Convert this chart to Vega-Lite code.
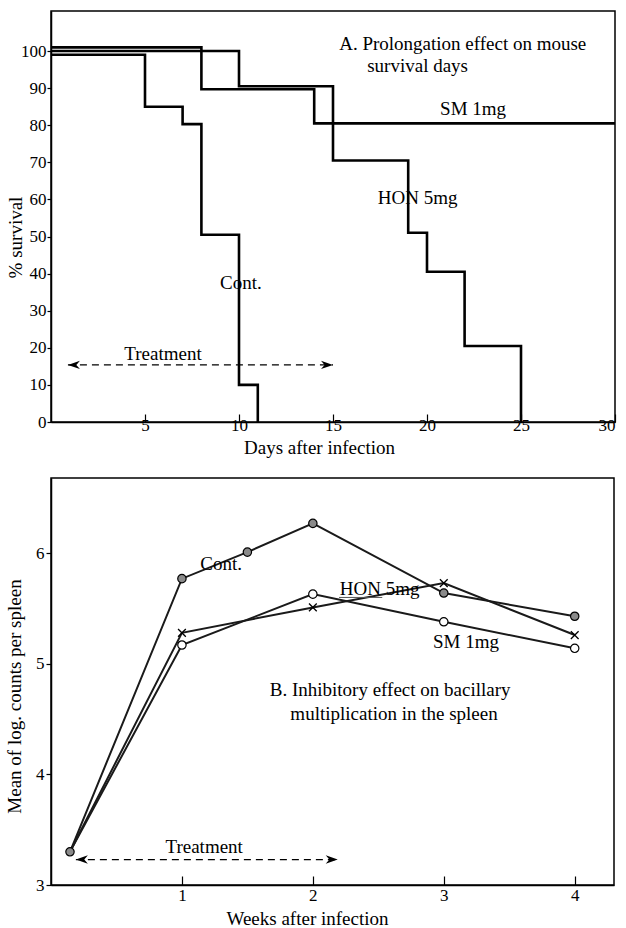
{
  "$schema": "https://vega.github.io/schema/vega-lite/v6.json",
  "background": "white",
  "padding": {"left": 4, "top": 10, "right": 5, "bottom": 5},
  "config": {
    "font": "Liberation Serif",
    "view": {"stroke": "black", "strokeWidth": 1.5},
    "axis": {
      "grid": false,
      "domainColor": "black",
      "domainWidth": 1.5,
      "tickColor": "black",
      "tickWidth": 1.2,
      "labelColor": "black",
      "titleColor": "black",
      "labelFont": "Liberation Serif",
      "titleFont": "Liberation Serif",
      "labelFontSize": 17,
      "titleFontSize": 19,
      "titleFontWeight": "normal",
      "format": "d"
    },
    "text": {"font": "Liberation Serif", "fontSize": 19, "fill": "black"}
  },
  "datasets": {
    "surv": [
      {"series": "Cont.", "day": 0, "pct": 99},
      {"series": "Cont.", "day": 5, "pct": 85},
      {"series": "Cont.", "day": 7, "pct": 80.3},
      {"series": "Cont.", "day": 8, "pct": 50.5},
      {"series": "Cont.", "day": 10, "pct": 10},
      {"series": "Cont.", "day": 11, "pct": 0},
      {"series": "SM 1mg", "day": 0, "pct": 101},
      {"series": "SM 1mg", "day": 8, "pct": 89.7},
      {"series": "SM 1mg", "day": 14, "pct": 80.5},
      {"series": "SM 1mg", "day": 30, "pct": 80.5},
      {"series": "HON 5mg", "day": 0, "pct": 100},
      {"series": "HON 5mg", "day": 10, "pct": 90.5},
      {"series": "HON 5mg", "day": 15, "pct": 70.5},
      {"series": "HON 5mg", "day": 19, "pct": 51},
      {"series": "HON 5mg", "day": 20, "pct": 40.5},
      {"series": "HON 5mg", "day": 22, "pct": 20.5},
      {"series": "HON 5mg", "day": 25, "pct": 0}
    ],
    "survLabels": [
      {"text": "A. Prolongation effect on mouse", "day": 21.9, "pct": 101.9},
      {"text": "survival days", "day": 19.5, "pct": 96.0},
      {"text": "SM 1mg", "day": 22.45, "pct": 84.4},
      {"text": "HON 5mg", "day": 19.5, "pct": 60.4},
      {"text": "Cont.", "day": 10.1, "pct": 37.5},
      {"text": "Treatment", "day": 5.96, "pct": 18.3}
    ],
    "survArrow": [{"from": 0.9, "to": 15.0, "pct": 15.4}],
    "spleen": [
      {"series": "Cont.", "week": 0.145, "log": 3.3},
      {"series": "Cont.", "week": 1, "log": 5.77},
      {"series": "Cont.", "week": 1.5, "log": 6.01},
      {"series": "Cont.", "week": 2, "log": 6.27},
      {"series": "Cont.", "week": 3, "log": 5.64},
      {"series": "Cont.", "week": 4, "log": 5.43},
      {"series": "HON 5mg", "week": 0.145, "log": 3.3},
      {"series": "HON 5mg", "week": 1, "log": 5.28},
      {"series": "HON 5mg", "week": 2, "log": 5.51},
      {"series": "HON 5mg", "week": 3, "log": 5.73},
      {"series": "HON 5mg", "week": 4, "log": 5.26},
      {"series": "SM 1mg", "week": 0.145, "log": 3.3},
      {"series": "SM 1mg", "week": 1, "log": 5.17},
      {"series": "SM 1mg", "week": 2, "log": 5.63},
      {"series": "SM 1mg", "week": 3, "log": 5.38},
      {"series": "SM 1mg", "week": 4, "log": 5.14}
    ],
    "spleenLabels": [
      {"text": "Cont.", "week": 1.30, "log": 5.90},
      {"text": "HON 5mg", "week": 2.51, "log": 5.68},
      {"text": "SM 1mg", "week": 3.17, "log": 5.20},
      {"text": "B. Inhibitory effect on bacillary", "week": 2.59, "log": 4.76},
      {"text": "multiplication in the spleen", "week": 2.62, "log": 4.55},
      {"text": "Treatment", "week": 1.17, "log": 3.34}
    ],
    "spleenArrow": [{"from": 0.19, "to": 2.19, "log": 3.23}],
    "underline": [{"from": 2.2, "to": 2.53, "log": 5.6}]
  },
  "bounds": "flush",
  "spacing": 56,
  "vconcat": [
    {
      "width": 564,
      "height": 411,
      "layer": [
        {
          "data": {"name": "surv"},
          "mark": {"type": "line", "interpolate": "step-after", "stroke": "black", "strokeWidth": 2.6},
          "encoding": {
            "x": {
              "field": "day", "type": "quantitative",
              "scale": {"domain": [0, 30], "nice": false, "zero": false},
              "axis": {"values": [5, 10, 15, 20, 25, 30], "title": "Days after infection", "tickSize": -8, "labelPadding": 3, "titleX": 268, "titleY": 25, "titleBaseline": "middle", "titleAlign": "center"}
            },
            "y": {
              "field": "pct", "type": "quantitative",
              "scale": {"domain": [0, 110.8], "nice": false},
              "axis": {"values": [0, 10, 20, 30, 40, 50, 60, 70, 80, 90, 100], "title": "% survival", "tickSize": 4, "labelPadding": 1, "titleX": -36, "titleY": 226, "titleBaseline": "middle", "titleAngle": -90, "titleAlign": "center"}
            },
            "detail": {"field": "series"}
          }
        },
        {
          "data": {"name": "survLabels"},
          "mark": {"type": "text", "align": "center", "baseline": "middle"},
          "encoding": {
            "x": {"field": "day", "type": "quantitative"},
            "y": {"field": "pct", "type": "quantitative"},
            "text": {"field": "text"}
          }
        },
        {
          "data": {"name": "survArrow"},
          "mark": {"type": "rule", "stroke": "black", "strokeWidth": 1.3, "strokeDash": [7, 5]},
          "encoding": {
            "x": {"field": "from", "type": "quantitative"},
            "x2": {"field": "to"},
            "y": {"field": "pct", "type": "quantitative"}
          }
        },
        {
          "data": {"name": "survArrow"},
          "mark": {"type": "point", "shape": "M0,0L2,-0.7L1.4,0L2,0.7Z", "filled": true, "color": "black", "size": 144, "opacity": 1},
          "encoding": {
            "x": {"field": "from", "type": "quantitative"},
            "y": {"field": "pct", "type": "quantitative"}
          }
        },
        {
          "data": {"name": "survArrow"},
          "mark": {"type": "point", "shape": "M0,0L-2,-0.7L-1.4,0L-2,0.7Z", "filled": true, "color": "black", "size": 144, "opacity": 1},
          "encoding": {
            "x": {"field": "to", "type": "quantitative"},
            "y": {"field": "pct", "type": "quantitative"}
          }
        }
      ]
    },
    {
      "width": 563,
      "height": 407,
      "layer": [
        {
          "data": {"name": "spleen"},
          "mark": {"type": "line", "stroke": "#1a1a1a", "strokeWidth": 2},
          "encoding": {
            "x": {
              "field": "week", "type": "quantitative",
              "scale": {"domain": [0, 4.3], "nice": false, "zero": false},
              "axis": {"values": [1, 2, 3, 4], "title": "Weeks after infection", "tickSize": -9, "labelPadding": 11, "titleX": 256, "titleY": 33, "titleBaseline": "middle", "titleAlign": "center"}
            },
            "y": {
              "field": "log", "type": "quantitative",
              "scale": {"domain": [3, 6.68], "nice": false, "zero": false},
              "axis": {"values": [3, 4, 5, 6], "title": "Mean of log. counts per spleen", "tickSize": 5, "labelPadding": 2, "titleX": -37, "titleY": 218, "titleBaseline": "middle", "titleAngle": -90, "titleAlign": "center"}
            },
            "detail": {"field": "series"}
          }
        },
        {
          "data": {"name": "spleen"},
          "transform": [{"filter": "datum.series === 'Cont.'"}],
          "mark": {"type": "point", "shape": "circle", "filled": true, "fill": "#8a8a8a", "stroke": "black", "strokeWidth": 1.2, "size": 70, "opacity": 1},
          "encoding": {
            "x": {"field": "week", "type": "quantitative"},
            "y": {"field": "log", "type": "quantitative"}
          }
        },
        {
          "data": {"name": "spleen"},
          "transform": [{"filter": "datum.series === 'SM 1mg' && datum.week > 0.5"}],
          "mark": {"type": "point", "shape": "circle", "filled": true, "fill": "white", "stroke": "black", "strokeWidth": 1.2, "size": 70, "opacity": 1},
          "encoding": {
            "x": {"field": "week", "type": "quantitative"},
            "y": {"field": "log", "type": "quantitative"}
          }
        },
        {
          "data": {"name": "spleen"},
          "transform": [{"filter": "datum.series === 'HON 5mg' && datum.week > 0.5"}],
          "mark": {"type": "point", "shape": "M-1,-1L1,1M-1,1L1,-1", "filled": false, "stroke": "black", "strokeWidth": 1.3, "size": 60, "opacity": 1},
          "encoding": {
            "x": {"field": "week", "type": "quantitative"},
            "y": {"field": "log", "type": "quantitative"}
          }
        },
        {
          "data": {"name": "spleenLabels"},
          "mark": {"type": "text", "align": "center", "baseline": "middle"},
          "encoding": {
            "x": {"field": "week", "type": "quantitative"},
            "y": {"field": "log", "type": "quantitative"},
            "text": {"field": "text"}
          }
        },
        {
          "data": {"name": "underline"},
          "mark": {"type": "rule", "stroke": "#555", "strokeWidth": 1},
          "encoding": {
            "x": {"field": "from", "type": "quantitative"},
            "x2": {"field": "to"},
            "y": {"field": "log", "type": "quantitative"}
          }
        },
        {
          "data": {"name": "spleenArrow"},
          "mark": {"type": "rule", "stroke": "black", "strokeWidth": 1.3, "strokeDash": [7, 5]},
          "encoding": {
            "x": {"field": "from", "type": "quantitative"},
            "x2": {"field": "to"},
            "y": {"field": "log", "type": "quantitative"}
          }
        },
        {
          "data": {"name": "spleenArrow"},
          "mark": {"type": "point", "shape": "M0,0L2,-0.7L1.4,0L2,0.7Z", "filled": true, "color": "black", "size": 144, "opacity": 1},
          "encoding": {
            "x": {"field": "from", "type": "quantitative"},
            "y": {"field": "log", "type": "quantitative"}
          }
        },
        {
          "data": {"name": "spleenArrow"},
          "mark": {"type": "point", "shape": "M0,0L-2,-0.7L-1.4,0L-2,0.7Z", "filled": true, "color": "black", "size": 144, "opacity": 1},
          "encoding": {
            "x": {"field": "to", "type": "quantitative"},
            "y": {"field": "log", "type": "quantitative"}
          }
        }
      ]
    }
  ]
}
